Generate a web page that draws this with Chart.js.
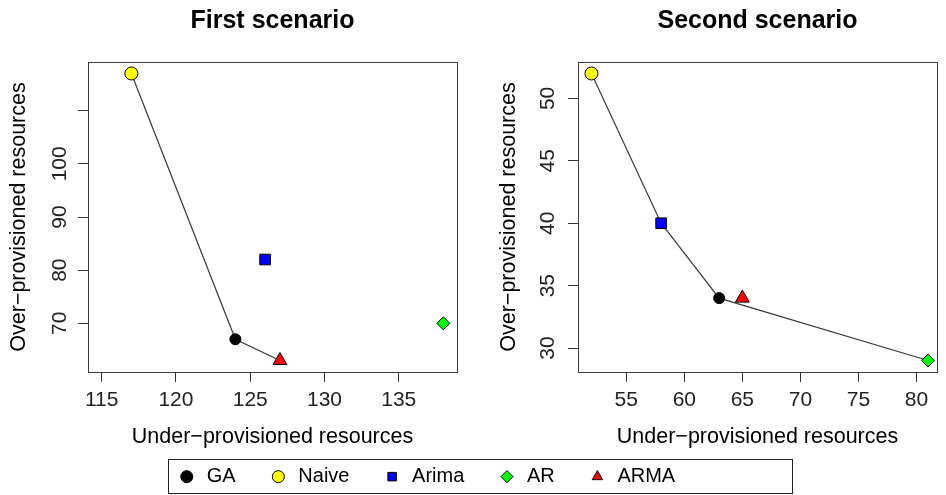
<!DOCTYPE html>
<html>
<head>
<meta charset="utf-8">
<script src="https://cdn.jsdelivr.net/npm/chart.js@4"></script>
<style>
  body { margin: 0; background: #fff; width: 946px; height: 495px; overflow: hidden; position: relative; }
  canvas { position: absolute; }
  #chart1 { left: 0; top: 0; }
  #chart2 { left: 470px; top: 0; }
  #legend { left: 0; top: 434px; }
</style>
</head>
<body>
<canvas id="chart1" width="470" height="450"></canvas>
<canvas id="chart2" width="476" height="450"></canvas>
<canvas id="legend" width="852" height="200"></canvas>
<script>
var methods = ['GA', 'Naive', 'Arima', 'AR', 'ARMA'];

// first scenario
var under1 = [124, 117, 126, 138, 127];
var over1  = [67, 117, 82, 70, 63];
var front1 = ['Naive', 'GA', 'ARMA'];
var xTicks1 = [115, 120, 125, 130, 135];
var yTicks1 = [70, 80, 90, 100, 110];
var yLabels1 = [70, 80, 90, 100];

// second scenario
var under2 = [63, 52, 58, 81, 65];
var over2  = [34, 52, 40, 29, 34];
var front2 = ['Naive', 'Arima', 'GA', 'AR'];
var xTicks2 = [55, 60, 65, 70, 75, 80];
var yTicks2 = [30, 35, 40, 45, 50];
var yLabels2 = [30, 35, 40, 45, 50];

var pointStyles = ['circle', 'circle', 'rect', 'rectRot', 'triangle'];
var pointFill   = ['#000000', '#ffff00', '#0000ff', '#00ff00', '#ff0000'];
var pointSize   = [5.5, 6.5, 7.5, 6.5, 8];

var font = "'Liberation Sans', Arial, sans-serif";

// box round the plot region, like R's box()
var plotBox = {
  id: 'plotBox',
  afterDraw: function (chart) {
    var a = chart.chartArea, ctx = chart.ctx;
    ctx.save();
    ctx.strokeStyle = '#3a3a3a';
    ctx.lineWidth = 1;
    ctx.strokeRect(Math.round(a.left) + 0.5, Math.round(a.top) + 0.5,
                   Math.round(a.right - a.left), Math.round(a.bottom - a.top));
    ctx.restore();
  }
};

function makeDatasets(under, over, front) {
  var sets = methods.map(function (m, i) {
    return {
      label: m,
      data: [{x: under[i], y: over[i]}],
      pointStyle: pointStyles[i],
      pointRadius: pointSize[i],
      pointHoverRadius: pointSize[i],
      backgroundColor: pointFill[i],
      borderColor: '#000',
      borderWidth: 1,
      order: 1
    };
  });
  sets.push({
    label: 'front',
    data: front.map(function (m) {
      var i = methods.indexOf(m);
      return {x: under[i], y: over[i]};
    }),
    showLine: true,
    pointRadius: 0,
    borderColor: '#3a3a3a',
    borderWidth: 1.2,
    order: 2
  });
  return sets;
}

function makeOptions(o) {
  return {
    responsive: false,
    animation: false,
    devicePixelRatio: 1,
    layout: { padding: { left: 0, right: o.padRight, top: 0, bottom: 0 } },
    plugins: {
      legend: { display: false },
      tooltip: { enabled: false },
      title: {
        display: true, text: o.title, fullSize: false, color: '#000',
        font: { family: font, size: 25, weight: 'bold', lineHeight: 1.2 },
        padding: { top: 6, bottom: 26 }
      }
    },
    scales: {
      x: {
        type: 'linear', min: o.xMin, max: o.xMax,
        afterBuildTicks: function (s) { s.ticks = o.xTicks.map(function (v) { return {value: v}; }); },
        afterFit: function (s) { s.height = 78; },
        grid: { drawOnChartArea: false, tickLength: 10, color: '#333' },
        border: { display: false },
        ticks: { padding: 6, color: '#222', maxRotation: 0, autoSkip: false, font: { family: font, size: 21 } },
        title: {
          display: true, text: 'Under\u2212provisioned resources', color: '#000',
          font: { family: font, size: 21.5, lineHeight: 1.2 }, padding: { top: 0, bottom: 0 }
        }
      },
      y: {
        type: 'linear', min: o.yMin, max: o.yMax,
        afterBuildTicks: function (s) { s.ticks = o.yTicks.map(function (v) { return {value: v}; }); },
        afterFit: function (s) { s.width = o.yWidth; },
        grid: { drawOnChartArea: false, tickLength: 10, color: '#333' },
        border: { display: false },
        ticks: {
          padding: o.yPad, color: '#222', minRotation: 90, maxRotation: 90, crossAlign: 'center', autoSkip: false,
          font: { family: font, size: 21 },
          callback: function (v) { return o.yLabels.indexOf(v) >= 0 ? String(v) : ''; }
        },
        title: {
          display: true, text: 'Over\u2212provisioned resources', color: '#000',
          font: { family: font, size: 21.5, lineHeight: 1.2 }, padding: { top: o.yTitlePad, bottom: 0 }
        }
      }
    }
  };
}

new Chart(document.getElementById('chart1'), {
  type: 'scatter',
  data: { datasets: makeDatasets(under1, over1, front1) },
  options: makeOptions({
    title: 'First scenario', padRight: 13,
    xMin: 114.08, xMax: 138.92, xTicks: xTicks1,
    yMin: 60.84, yMax: 119.16, yTicks: yTicks1, yLabels: yLabels1,
    yWidth: 88, yPad: 0.5, yTitlePad: 6.5
  }),
  plugins: [plotBox]
});

new Chart(document.getElementById('chart2'), {
  type: 'scatter',
  data: { datasets: makeDatasets(under2, over2, front2) },
  options: makeOptions({
    title: 'Second scenario', padRight: 4,
    xMin: 50.84, xMax: 81.77, xTicks: xTicks2,
    yMin: 28.08, yMax: 52.92, yTicks: yTicks2, yLabels: yLabels2,
    yWidth: 108, yPad: 8.5, yTitlePad: 26.5
  }),
  plugins: [plotBox]
});

// shared legend below both panels
var legendFrame = {
  id: 'legendFrame',
  afterDraw: function (chart) {
    var boxes = chart.legend.legendHitBoxes;
    if (!boxes || !boxes.length) return;
    var first = boxes[0], last = boxes[boxes.length - 1];
    var left = Math.round(first.left - 8.4), right = Math.round(last.left + last.width + 116.6);
    var top = Math.round(first.top - 7.4), bottom = Math.round(first.top + first.height + 6.6);
    var ctx = chart.ctx;
    ctx.save();
    ctx.strokeStyle = '#222';
    ctx.lineWidth = 1;
    ctx.strokeRect(left + 0.5, top + 0.5, right - left, bottom - top);
    ctx.restore();
  }
};

new Chart(document.getElementById('legend'), {
  type: 'scatter',
  data: {
    datasets: methods.map(function (m, i) {
      return {
        label: m, data: [], pointStyle: pointStyles[i],
        backgroundColor: pointFill[i], borderColor: '#000', borderWidth: 1
      };
    })
  },
  options: {
    responsive: false,
    animation: false,
    devicePixelRatio: 1,
    scales: { x: { display: false }, y: { display: false } },
    plugins: {
      tooltip: { enabled: false },
      legend: {
        display: true, position: 'top',
        labels: {
          usePointStyle: true, boxWidth: 20, boxHeight: 8.5, padding: 32.65,
          color: '#000', font: { family: font, size: 20 }
        }
      }
    }
  },
  plugins: [legendFrame]
});
</script>
</body>
</html>
